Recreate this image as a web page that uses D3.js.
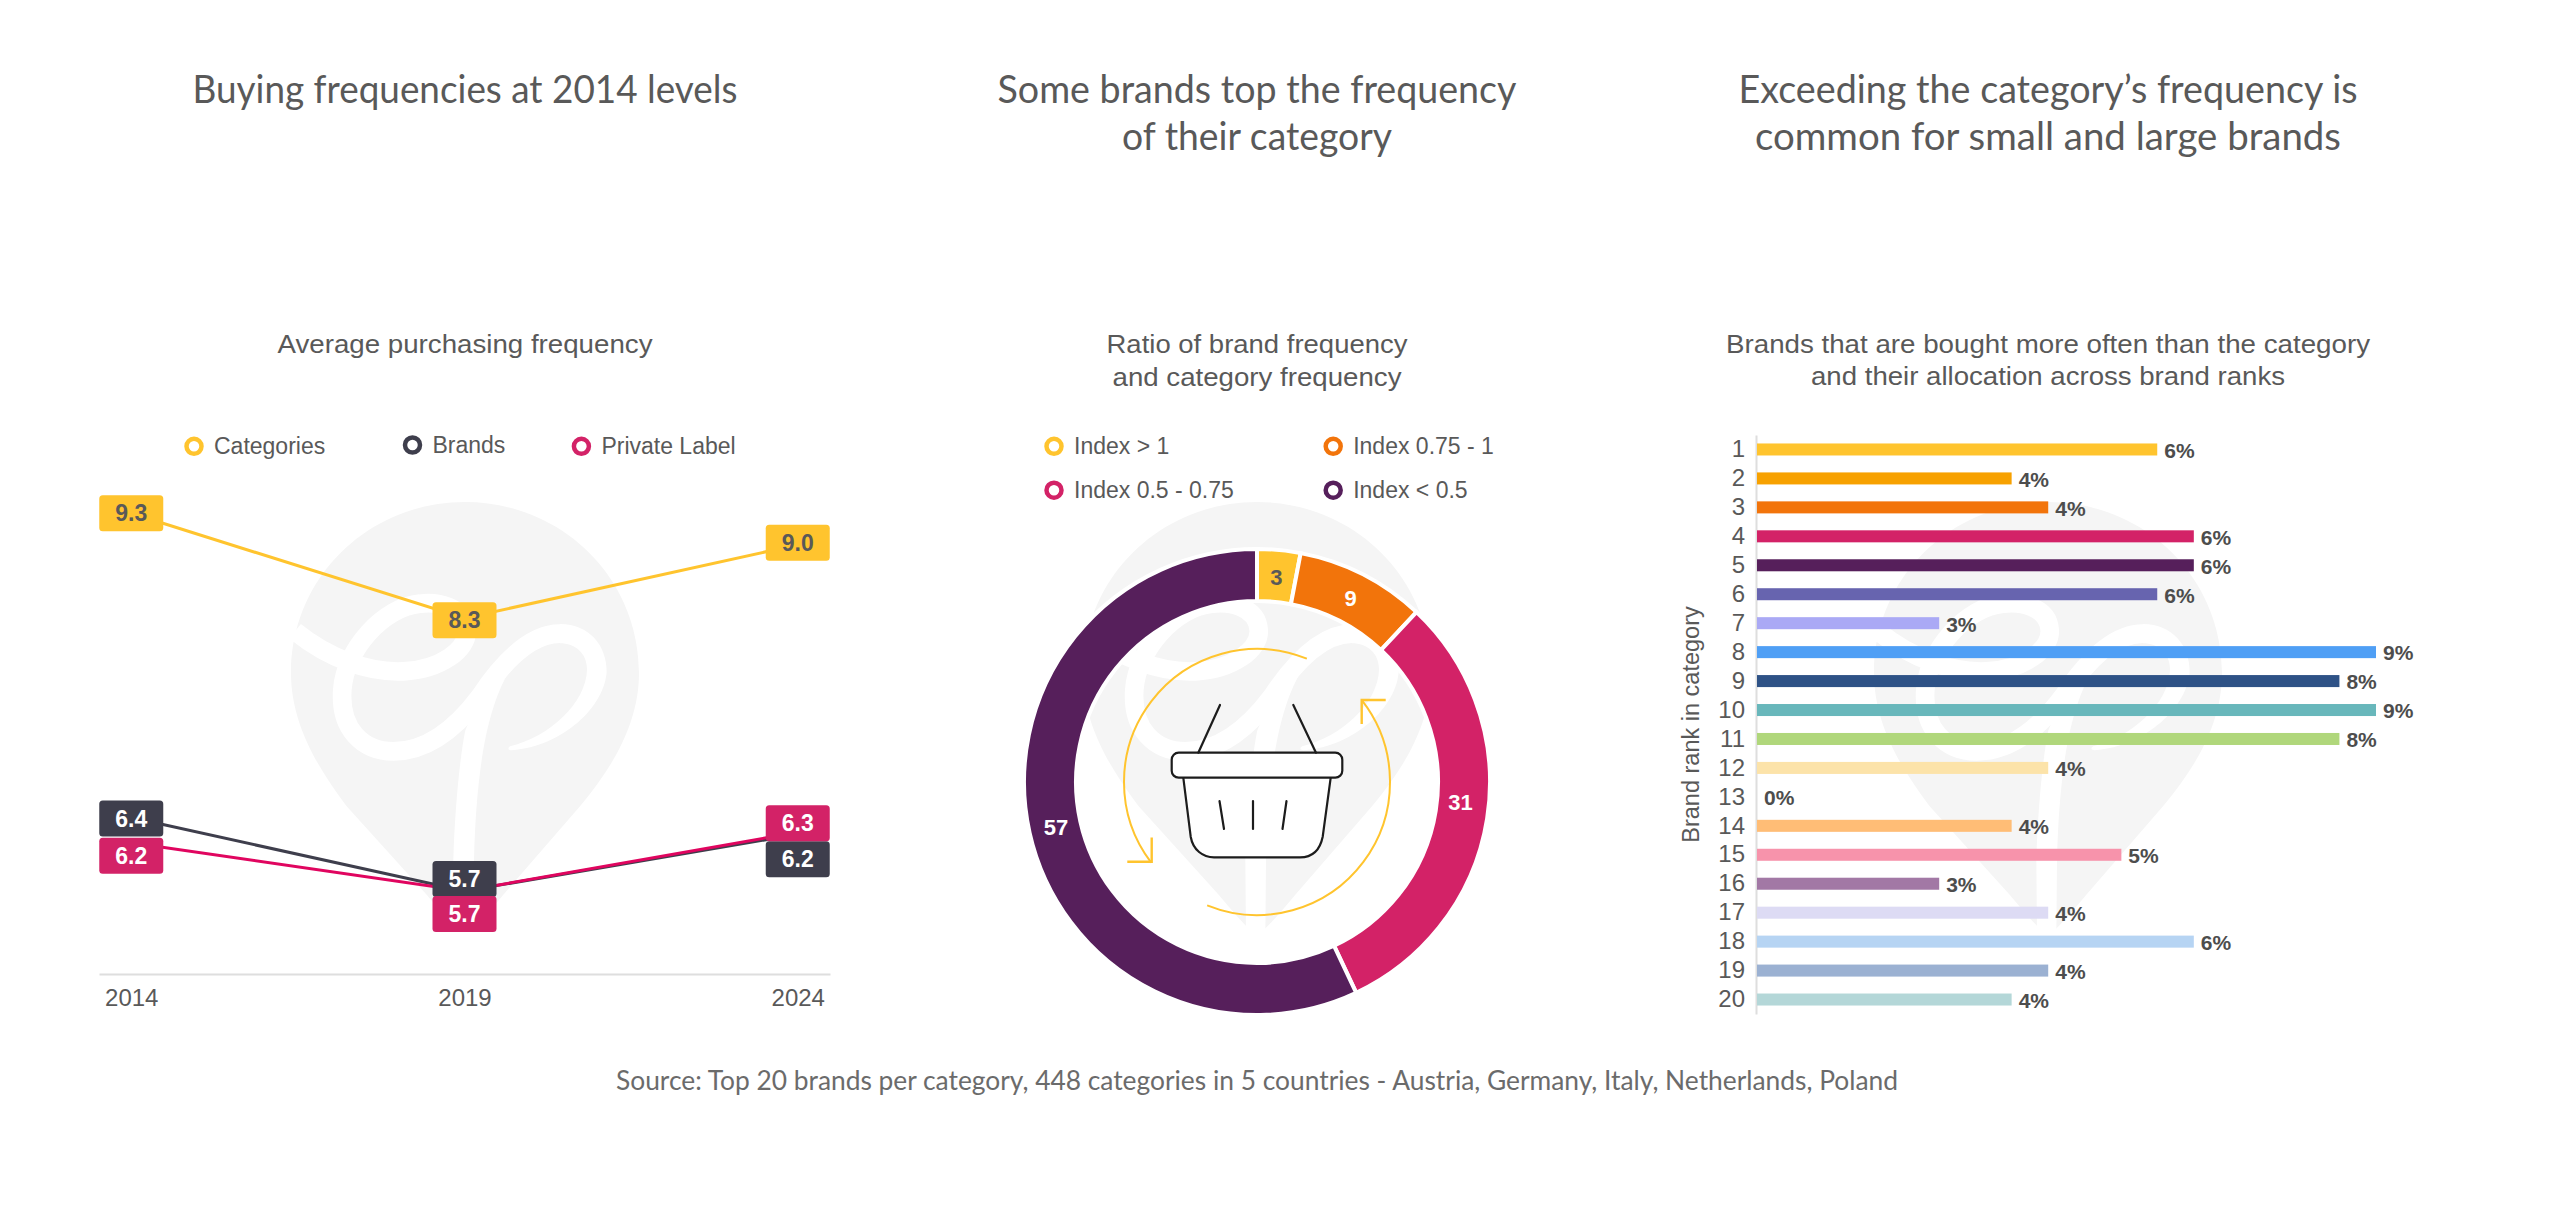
<!DOCTYPE html>
<html><head><meta charset="utf-8">
<script src="https://cdn.jsdelivr.net/npm/d3@7/dist/d3.min.js"></script>
<style>html,body{margin:0;background:#fff}svg{display:block}</style></head>
<body><svg id="c" width="2560" height="1227"></svg>
<script>
// ---------- data ----------
const years = ["2014","2019","2024"];
const seriesNames = ["Categories","Brands","Private Label"];
const categoriesFreq = [9.3,8.3,9.0];
const brandsFreq = [6.4,5.7,6.24];
const privateLabelFreq = [6.16,5.7,6.26];
const donutNames = ["Index > 1","Index 0.75 - 1","Index 0.5 - 0.75","Index < 0.5"];
const donutValues = [3,9,31,57];
const ranks = ["1","2","3","4","5","6","7","8","9","10","11","12","13","14","15","16","17","18","19","20"];
const rankShare = [5.58,3.55,4.06,6.09,6.09,5.58,2.54,8.63,8.12,8.63,8.12,4.06,0,3.55,5.08,2.54,4.06,6.09,4.06,3.55];
// ---------- styles ----------
const rankColors = ["#FFC42E","#F7A100","#F2740B","#D32267","#561F5B","#6764AF","#AAA9F5","#4F9FF5","#2E5286","#68B7BB","#B0D77B","#FCE3A9","#cccccc","#FFBD76","#F793AB","#A278A5","#DDDBF4","#B6D4F3","#9BB1D2","#B4D7D8"];
const lineColors = ["#FFC42E","#3E3E4C","#E0055F"];
const boxColors = ["#FFC42E","#3E3E4C","#D32267"];
const legendRing = ["#FFC42E","#3E3E4C","#D32267"];
const donutColors = ["#FFC42E","#F2740B","#D32267","#561F5B"];
const labelShift = [[0,2,-2],[1,-12,25],[13,23,-9]];
const GREY="#595959", ARIAL="'Liberation Sans',Arial,sans-serif", HEAD="Lato,'Noto Sans',sans-serif";

const svg = d3.select("#c");

// watermark
function watermark(cx){
  const g = svg.append("g").attr("transform",`translate(${cx},673) scale(${1/3}) translate(-555,-550)`);
  g.append("path").attr("fill","#f5f5f5").attr("d","M555,37 C843,37 1077,262 1077,550 C1077,700 1000,830 900,950 L670,1215 Q570,1335 555,1335 Q540,1335 440,1215 L200,950 C110,830 33,700 33,550 C33,262 267,37 555,37Z");
  g.append("path").attr("fill","none").attr("stroke","#fff").attr("stroke-width",56)
   .attr("d","M45,425 C150,510 270,550 370,545 C480,540 565,480 560,420 C555,350 470,335 420,342 C310,352 195,480 187,600 C178,720 250,785 340,785 C450,785 540,700 600,620 C680,500 760,432 840,432");
  g.append("path").attr("fill","#fff").attr("d","M840,403 C930,403 980,470 980,545 C975,650 850,770 695,782 Q678,780 690,770 C810,740 918,640 921,540 C921,490 885,461 840,461Z");
  g.append("path").attr("fill","#fff").attr("d","M690,540 C630,640 590,800 582,1110 L580,1340 L522,1340 L520,1110 C525,950 540,800 556,722 L600,620Z");
}
[465,1257,2048].forEach(watermark);

// text helper
function txt(x,y,s,o={}){
  const t = svg.append("text").attr("x",x).attr("y",y).attr("dy",".35em")
    .attr("text-anchor",o.a||"middle").attr("font-family",o.f||ARIAL)
    .attr("font-size",o.s||23).attr("font-weight",o.w||400).attr("fill",o.c||GREY).text(s);
  if(o.len) t.attr("textLength",o.len).attr("lengthAdjust","spacingAndGlyphs");
  return t;
}

// headings
const hs=38;
txt(465,90,"Buying frequencies at 2014 levels",{f:HEAD,s:hs,len:545});
txt(1257,90,"Some brands top the frequency",{f:HEAD,s:hs,len:519});
txt(1257,137,"of their category",{f:HEAD,s:hs,len:270});
txt(2048,90,"Exceeding the category\u2019s frequency is",{f:HEAD,s:hs,len:619});
txt(2048,137,"common for small and large brands",{f:HEAD,s:hs,len:586});
txt(1257,344,"Ratio of brand frequency",{s:26,len:301});
txt(1257,377,"and category frequency",{s:26,len:289});
txt(465,344,"Average purchasing frequency",{s:26,len:375});
txt(2048,344,"Brands that are bought more often than the category",{s:26,len:644});
txt(2048,376,"and their allocation across brand ranks",{s:26,len:474});
txt(1257,1081,"Source: Top 20 brands per category, 448 categories in 5 countries - Austria, Germany, Italy, Netherlands, Poland",{f:HEAD,s:26,len:1282,c:"#6b6b6b"});

// legend helper
function legend(x,y,c,s){
  svg.append("circle").attr("cx",x).attr("cy",y).attr("r",7.5).attr("fill","#fff").attr("stroke",c).attr("stroke-width",4.5);
  txt(x+20,y,s,{a:"start",s:23});
}

// ---------- line chart ----------
const xL = d3.scalePoint().domain(years).range([99,830]).padding(0.0968);
const yL = d3.scaleLinear().domain([9.3,5.7]).range([513.3,891]);
const allSeries=[categoriesFreq,brandsFreq,privateLabelFreq];
[[194,446.3],[412.5,445],[581.4,446.3]].forEach((p,i)=>legend(p[0],p[1],legendRing[i],seriesNames[i]));
const axL = svg.append("g").attr("transform","translate(0,974)").call(d3.axisBottom(xL).tickSize(0).tickPadding(15));
axL.select(".domain").attr("stroke","#dedede").attr("stroke-width",2);
axL.selectAll("text").attr("font-family",ARIAL).attr("font-size",24).attr("fill",GREY);
const ln = d3.line().x((d,i)=>xL(years[i])).y(d=>yL(d));
[1,2,0].forEach(k=>{
  svg.append("path").attr("d",ln(allSeries[k])).attr("fill","none").attr("stroke",lineColors[k]).attr("stroke-width",3);
});
[0,1,2].forEach(k=>{
  allSeries[k].forEach((v,i)=>{
    const cx=xL(years[i]), cy=yL(v)+labelShift[k][i];
    svg.append("rect").attr("x",cx-32).attr("y",cy-18).attr("width",64).attr("height",36).attr("rx",3.5).attr("fill",boxColors[k]);
    txt(cx,cy,v.toFixed(1),{w:700,s:23,c:k==0?GREY:"#fff"});
  });
});

// ---------- donut ----------
const DC=[1257,782];
[[1054,446.3],[1333.2,446.3],[1054,490.2],[1333.2,490.2]].forEach((p,i)=>legend(p[0],p[1],donutColors[i],donutNames[i]));
const pie=d3.pie().sort(null)(donutValues);
const arc=d3.arc().innerRadius(181).outerRadius(233);
const dg=svg.append("g").attr("transform",`translate(${DC})`);
dg.selectAll("path").data(pie).join("path").attr("d",arc).attr("fill",(d,i)=>donutColors[i]).attr("stroke","#fff").attr("stroke-width",4);
const lArc=d3.arc().innerRadius(206).outerRadius(206);
const donutLabelShift=[0,0,-12,0];
pie.forEach((d,i)=>{
  const [a,b]=lArc.centroid(d);
  txt(DC[0]+a,DC[1]+b+donutLabelShift[i],d.value,{w:700,s:22,c:i==0?GREY:"#fff"});
});
// recycling arrows
const rA=d3.arc().innerRadius(133).outerRadius(133);
const rad=d=>d*Math.PI/180;
dg.append("path").attr("d",rA({startAngle:rad(-127.3),endAngle:rad(22)})).attr("fill","none").attr("stroke","#FFC42E").attr("stroke-width",2);
dg.append("path").attr("d",rA({startAngle:rad(52),endAngle:rad(202)})).attr("fill","none").attr("stroke","#FFC42E").attr("stroke-width",2);
const polyline=d3.line();
const yel=svg.append("g").attr("fill","none").attr("stroke","#FFC42E").attr("stroke-width",2.4);
yel.append("path").attr("d",polyline([[1151.7,837.5],[1151.7,861.7],[1127.3,861.7]]));
yel.append("path").attr("d",polyline([[1361.7,724],[1361.7,700],[1385.7,700]]));
// basket
const bk=svg.append("g").attr("fill","none").attr("stroke","#1c1c1c").attr("stroke-width",2.2).attr("stroke-linecap","round");
bk.append("path").attr("fill","#fff").attr("d","M1183.3,777.7 L1190.7,836.7 C1193,850 1203,857.3 1214,857.3 L1300,857.3 C1312,857.3 1320,850 1322.7,836.7 L1330.7,777.7");
bk.append("rect").attr("x",1171.7).attr("y",752.7).attr("width",170.6).attr("height",25).attr("rx",7).attr("fill","#fff");
[[[1198.3,752.7],[1220,705]],[[1316,752.7],[1293.3,705]],[[1219.5,801],[1224,829]],[[1253,801],[1253,829]],[[1286.5,801],[1282.5,829]]]
 .forEach(s=>bk.append("path").attr("d",polyline(s)));

// ---------- bars ----------
const yB=d3.scaleBand().domain(ranks).range([435,1014]).paddingInner(0.585).paddingOuter(0.2925);
const xB=d3.scaleLinear().domain([0,8.63]).range([1757,2376]);
const axB=svg.append("g").attr("transform","translate(1756,0)").call(d3.axisLeft(yB).tickSize(0).tickPadding(11));
axB.select(".domain").attr("stroke","#dedede").attr("stroke-width",2);
axB.selectAll("text").attr("font-family",ARIAL).attr("font-size",24).attr("fill",GREY);
svg.append("g").selectAll("rect").data(rankShare).join("rect")
  .attr("x",xB(0)).attr("y",(d,i)=>yB(ranks[i])).attr("width",d=>xB(d)-xB(0)).attr("height",yB.bandwidth())
  .attr("fill",(d,i)=>rankColors[i]);
rankShare.forEach((v,i)=>txt(xB(v)+7,yB(ranks[i])+yB.bandwidth()/2+1,Math.round(v)+"%",{a:"start",w:700,s:21,c:"#4d4d4d"}));
svg.append("text").attr("transform","translate(1691,724.5) rotate(-90)").attr("dy",".35em").attr("text-anchor","middle")
  .attr("font-family",ARIAL).attr("font-size",23.5).attr("fill",GREY).text("Brand rank in category");
</script></body></html>
